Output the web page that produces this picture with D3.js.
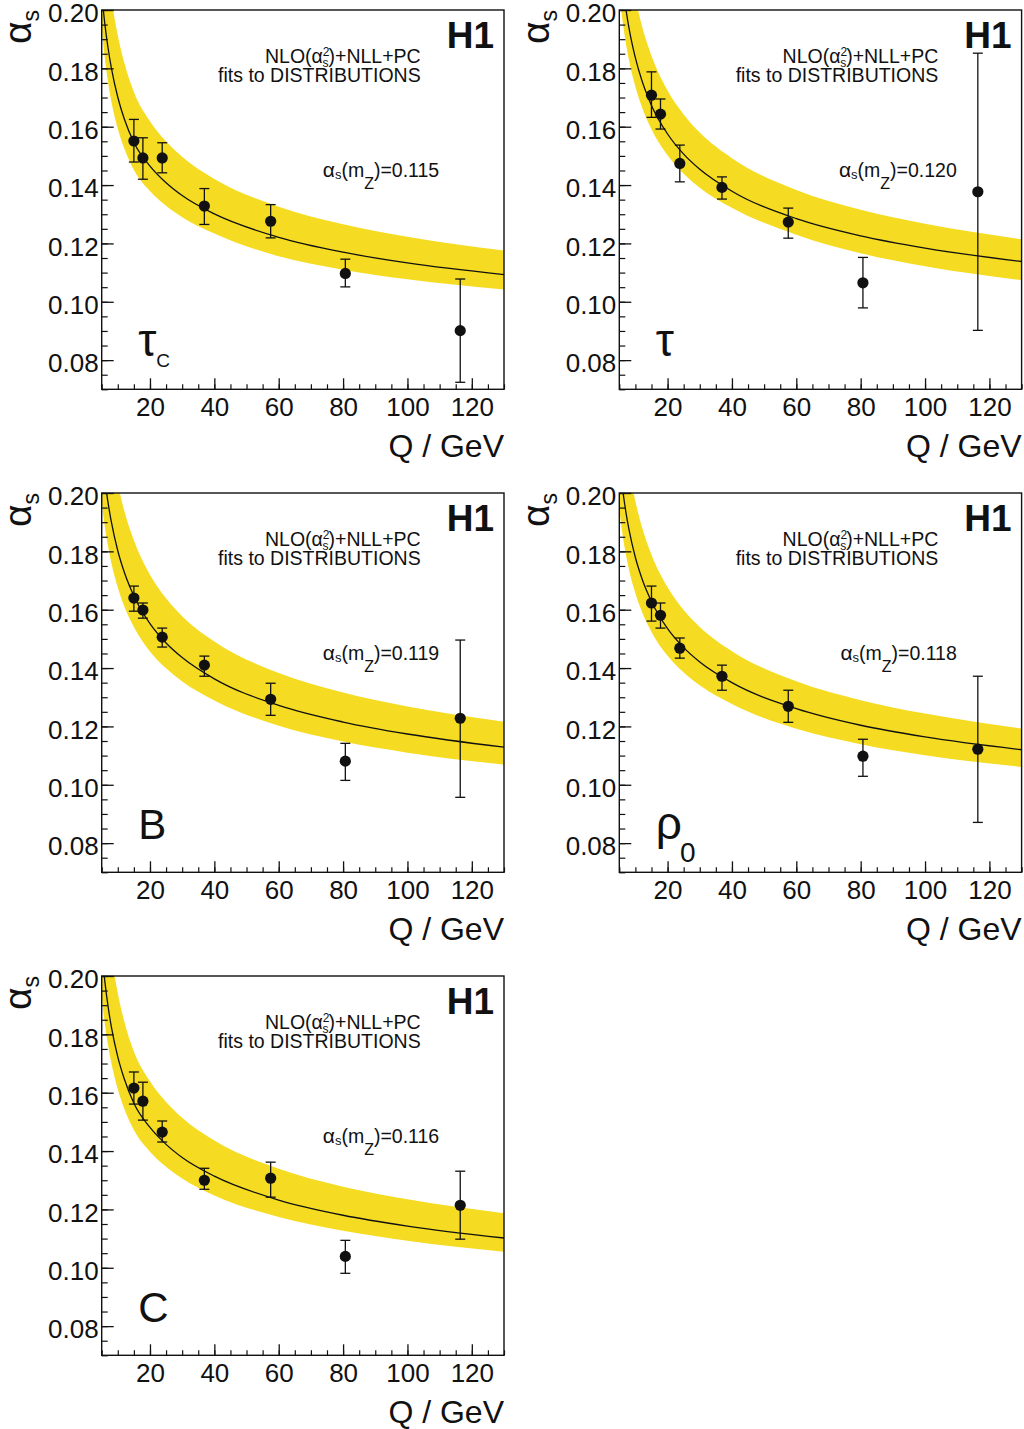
<!DOCTYPE html>
<html>
<head>
<meta charset="utf-8">
<script src="https://cdn.jsdelivr.net/npm/d3@7"></script>
<style>
  html, body { margin: 0; padding: 0; background: #fff; }
  svg { display: block; }
  text { font-family: "Liberation Sans", Arial, Helvetica, sans-serif; fill: #111; }
</style>
</head>
<body>
<svg id="chart" width="1024" height="1429"></svg>
<script>
// ---------------- data ----------------
const qPoints = [15.0, 17.8, 23.8, 36.9, 57.5, 80.7, 116.4];

const panelLabels = ["τ|C", "τ|", "B|", "ρ|0", "C|"];
const alphaMZLabels = ["0.115", "0.120", "0.119", "0.118", "0.116"];

const tauCValues = [0.1551, 0.1493, 0.1493, 0.1328, 0.1276, 0.1097, 0.0901];
const tauCHigh   = [0.1625, 0.1562, 0.1545, 0.1388, 0.1333, 0.1146, 0.1078];
const tauCLow    = [0.1479, 0.1420, 0.1442, 0.1265, 0.1219, 0.1051, 0.0724];

const tauValues = [0.1708, 0.1643, 0.1474, 0.1392, 0.1273, 0.1065, 0.1377];
const tauHigh   = [0.1788, 0.1695, 0.1537, 0.1428, 0.1321, 0.1152, 0.1852];
const tauLow    = [0.1632, 0.1592, 0.1411, 0.1352, 0.1218, 0.0979, 0.0902];

const bValues = [0.1640, 0.1599, 0.1506, 0.1410, 0.1293, 0.1081, 0.1228];
const bHigh   = [0.1681, 0.1623, 0.1537, 0.1441, 0.1348, 0.1142, 0.1496];
const bLow    = [0.1595, 0.1571, 0.1472, 0.1372, 0.1238, 0.1015, 0.0957];

const rhoValues = [0.1623, 0.1581, 0.1468, 0.1372, 0.1269, 0.1098, 0.1122];
const rhoHigh   = [0.1681, 0.1623, 0.1503, 0.1410, 0.1324, 0.1156, 0.1372];
const rhoLow    = [0.1561, 0.1537, 0.1434, 0.1324, 0.1214, 0.1029, 0.0871];

const cValues = [0.1616, 0.1571, 0.1465, 0.1300, 0.1307, 0.1039, 0.1214];
const cHigh   = [0.1671, 0.1636, 0.1503, 0.1341, 0.1362, 0.1094, 0.1331];
const cLow    = [0.1561, 0.1506, 0.1431, 0.1269, 0.1242, 0.0981, 0.1098];

// fitted running-coupling curves and yellow bands, sampled along Q
const qGrid = [5, 6, 7, 8, 10, 12, 15, 20, 25, 30, 40, 60, 80, 100, 130];

const tauCCurve  = [0.2057, 0.1950, 0.1868, 0.1802, 0.1701, 0.1627, 0.1546, 0.1465, 0.1408, 0.1364, 0.1301, 0.1221, 0.1170, 0.1133, 0.1093];
const tauCBandHi = [0.2375, 0.2233, 0.2126, 0.2041, 0.1913, 0.1820, 0.1719, 0.1619, 0.1550, 0.1497, 0.1421, 0.1326, 0.1266, 0.1223, 0.1176];
const tauCBandLo = [0.1938, 0.1832, 0.1750, 0.1686, 0.1593, 0.1526, 0.1452, 0.1380, 0.1329, 0.1290, 0.1234, 0.1156, 0.1110, 0.1077, 0.1042];

const tauCurve  = [0.2200, 0.2091, 0.2007, 0.1939, 0.1836, 0.1759, 0.1673, 0.1575, 0.1506, 0.1454, 0.1379, 0.1285, 0.1226, 0.1184, 0.1138];
const tauBandHi = [0.2503, 0.2363, 0.2256, 0.2171, 0.2042, 0.1947, 0.1843, 0.1724, 0.1642, 0.1580, 0.1492, 0.1383, 0.1315, 0.1267, 0.1214];
const tauBandLo = [0.2060, 0.1964, 0.1889, 0.1829, 0.1737, 0.1668, 0.1591, 0.1502, 0.1439, 0.1391, 0.1322, 0.1230, 0.1166, 0.1122, 0.1074];

const bCurve  = [0.2149, 0.2045, 0.1965, 0.1901, 0.1802, 0.1729, 0.1647, 0.1552, 0.1486, 0.1436, 0.1363, 0.1272, 0.1215, 0.1174, 0.1129];
const bBandHi = [0.2485, 0.2348, 0.2243, 0.2160, 0.2033, 0.1940, 0.1838, 0.1720, 0.1639, 0.1578, 0.1491, 0.1383, 0.1316, 0.1268, 0.1216];
const bBandLo = [0.1971, 0.1883, 0.1816, 0.1760, 0.1676, 0.1612, 0.1541, 0.1457, 0.1399, 0.1354, 0.1289, 0.1202, 0.1148, 0.1110, 0.1069];

const rhoCurve  = [0.2116, 0.2016, 0.1938, 0.1875, 0.1779, 0.1708, 0.1628, 0.1535, 0.1470, 0.1421, 0.1350, 0.1261, 0.1204, 0.1164, 0.1120];
const rhoBandHi = [0.2395, 0.2267, 0.2169, 0.2091, 0.1972, 0.1885, 0.1788, 0.1677, 0.1599, 0.1541, 0.1458, 0.1355, 0.1290, 0.1244, 0.1193];
const rhoBandLo = [0.1943, 0.1858, 0.1792, 0.1738, 0.1656, 0.1594, 0.1524, 0.1442, 0.1385, 0.1341, 0.1277, 0.1192, 0.1139, 0.1101, 0.1061];

const cCurve  = [0.2089, 0.1979, 0.1894, 0.1826, 0.1723, 0.1648, 0.1564, 0.1481, 0.1423, 0.1378, 0.1314, 0.1232, 0.1180, 0.1143, 0.1102];
const cBandHi = [0.2418, 0.2271, 0.2160, 0.2072, 0.1941, 0.1845, 0.1741, 0.1639, 0.1568, 0.1514, 0.1436, 0.1339, 0.1278, 0.1235, 0.1187];
const cBandLo = [0.1928, 0.1834, 0.1761, 0.1702, 0.1612, 0.1546, 0.1472, 0.1398, 0.1346, 0.1306, 0.1248, 0.1174, 0.1127, 0.1093, 0.1055];

const xTickLabels = [20, 40, 60, 80, 100, 120];
const yTickLabels = [0.08, 0.10, 0.12, 0.14, 0.16, 0.18, 0.20];

// ---------------- assemble panels ----------------
const panels = [
  { values: tauCValues, high: tauCHigh, low: tauCLow, curve: tauCCurve, bandHi: tauCBandHi, bandLo: tauCBandLo },
  { values: tauValues,  high: tauHigh,  low: tauLow,  curve: tauCurve,  bandHi: tauBandHi,  bandLo: tauBandLo },
  { values: bValues,    high: bHigh,    low: bLow,    curve: bCurve,    bandHi: bBandHi,    bandLo: bBandLo },
  { values: rhoValues,  high: rhoHigh,  low: rhoLow,  curve: rhoCurve,  bandHi: rhoBandHi,  bandLo: rhoBandLo },
  { values: cValues,    high: cHigh,    low: cLow,    curve: cCurve,    bandHi: cBandHi,    bandLo: cBandLo }
].map((p, i) => Object.assign(p, { label: panelLabels[i], amz: alphaMZLabels[i] }));

// ---------------- layout ----------------
const W = 402.3, H = 379.3;
const originX = [101.7, 619.3];
const originY = [10, 493, 976];

const x = d3.scaleLinear().domain([5, 130]).range([0, W]);
const y = d3.scaleLinear().domain([0.07, 0.20]).range([H, 0]);

const svg = d3.select("#chart");
const YELLOW = "#f5dc22";
const FONT = '"Liberation Sans", Arial, Helvetica, sans-serif';

panels.forEach((p, i) => {
  const col = i % 2, row = Math.floor(i / 2);
  const g = svg.append("g").attr("transform", `translate(${originX[col]},${originY[row]})`);

  const clipId = "clip" + i;
  g.append("clipPath").attr("id", clipId)
    .append("rect").attr("x", 0).attr("y", 0).attr("width", W).attr("height", H);

  const plot = g.append("g").attr("clip-path", `url(#${clipId})`);

  const bandData = qGrid.map((q, k) => ({ q, lo: p.bandLo[k], hi: p.bandHi[k], c: p.curve[k] }));

  const area = d3.area()
    .x(d => x(d.q)).y0(d => y(d.lo)).y1(d => y(d.hi))
    .curve(d3.curveMonotoneX);
  plot.append("path").datum(bandData).attr("d", area).attr("fill", YELLOW);

  const line = d3.line().x(d => x(d.q)).y(d => y(d.c)).curve(d3.curveMonotoneX);
  plot.append("path").datum(bandData).attr("d", line)
    .attr("fill", "none").attr("stroke", "#111").attr("stroke-width", 1.3);

  // frame
  g.append("rect").attr("x", 0).attr("y", 0).attr("width", W).attr("height", H)
    .attr("fill", "none").attr("stroke", "#111").attr("stroke-width", 1.4);

  // minor ticks
  const yMinor = d3.range(0.070, 0.2001, 0.005);
  const xMinor = d3.range(5, 130.01, 5);
  const yMinorAxis = d3.axisLeft(y).tickValues(yMinor).tickSize(-6).tickFormat("");
  const xMinorAxis = d3.axisBottom(x).tickValues(xMinor).tickSize(-5).tickFormat("");
  g.append("g").call(yMinorAxis).call(s => s.select(".domain").remove())
    .selectAll("line").attr("stroke", "#111").attr("stroke-width", 1.2);
  g.append("g").attr("transform", `translate(0,${H})`).call(xMinorAxis)
    .call(s => s.select(".domain").remove())
    .selectAll("line").attr("stroke", "#111").attr("stroke-width", 1.2);

  // major ticks + labels
  const yAxis = d3.axisLeft(y).tickValues(yTickLabels).tickSize(-12).tickPadding(3)
    .tickFormat(d3.format(".2f"));
  const ya = g.append("g").call(yAxis);
  ya.select(".domain").remove();
  ya.selectAll("line").attr("stroke", "#111").attr("stroke-width", 1.3);
  ya.selectAll("text").attr("font-size", 26).attr("dy", "0.45em")
    .style("font-family", FONT).attr("fill", "#111");

  const xAxis = d3.axisBottom(x).tickValues(xTickLabels).tickSize(-11).tickPadding(8);
  const xa = g.append("g").attr("transform", `translate(0,${H})`).call(xAxis);
  xa.select(".domain").remove();
  xa.selectAll("line").attr("stroke", "#111").attr("stroke-width", 1.3);
  xa.selectAll("text").attr("font-size", 26)
    .style("font-family", FONT).attr("fill", "#111");

  // axis titles
  g.append("text").attr("x", W).attr("y", H + 67.5).attr("text-anchor", "end")
    .attr("font-size", 32).text("Q / GeV");

  const yt = g.append("text")
    .attr("transform", `translate(-70.5,0) rotate(-90)`)
    .attr("text-anchor", "end");
  yt.append("tspan").attr("font-size", 39).text("α");
  yt.append("tspan").attr("font-size", 23).attr("dy", 8).text("s");

  // H1 logo
  g.append("text").attr("x", W - 10).attr("y", 38).attr("text-anchor", "end")
    .attr("font-size", 37).attr("font-weight", "bold").text("H1");

  // NLO text
  const t1 = g.append("text").attr("x", 319).attr("y", 53).attr("text-anchor", "end").attr("font-size", 19.5);
  t1.append("tspan").text("NLO(α");
  t1.append("tspan").attr("font-size", 12).attr("dy", -7).text("2");
  t1.append("tspan").attr("font-size", 12).attr("dx", -7).attr("dy", 11).text("s");
  t1.append("tspan").attr("font-size", 19.5).attr("dy", -4).text(")+NLL+PC");
  g.append("text").attr("x", 319).attr("y", 71.7).attr("text-anchor", "end").attr("font-size", 19.5)
    .text("fits to DISTRIBUTIONS");

  // alpha_s(mZ) text
  const t2 = g.append("text").attr("x", 337.5).attr("y", 166.7).attr("text-anchor", "end").attr("font-size", 19.5);
  t2.append("tspan").attr("font-size", 21).text("α");
  t2.append("tspan").attr("font-size", 13).attr("dy", 2).text("s");
  t2.append("tspan").attr("font-size", 19.5).attr("dy", -2).text("(m");
  t2.append("tspan").attr("font-size", 16).attr("dy", 12).text("Z");
  t2.append("tspan").attr("font-size", 19.5).attr("dy", -12).text(")=" + p.amz);

  // panel label
  const [mainLab, subLab] = p.label.split("|");
  const isLatin = mainLab === "B" || mainLab === "C";
  const lab = g.append("text").attr("x", 36.5).attr("y", 345.5).attr("font-size", isLatin ? 42 : 46);
  lab.append("tspan").text(mainLab);
  if (subLab === "C") lab.append("tspan").attr("font-size", 19).attr("dy", 11).text("C");
  if (subLab === "0") lab.append("tspan").attr("font-size", 28).attr("dx", -2).attr("dy", 23).text("0");

  // data points with error bars
  const pts = qPoints.map((q, k) => ({ q, v: p.values[k], hi: p.high[k], lo: p.low[k] }));
  const pg = g.append("g");
  pg.selectAll("line.err").data(pts).join("line").attr("class", "err")
    .attr("x1", d => x(d.q)).attr("x2", d => x(d.q))
    .attr("y1", d => y(d.hi)).attr("y2", d => y(d.lo))
    .attr("stroke", "#111").attr("stroke-width", 1.3);
  pg.selectAll("line.capHi").data(pts).join("line").attr("class", "capHi")
    .attr("x1", d => x(d.q) - 5).attr("x2", d => x(d.q) + 5)
    .attr("y1", d => y(d.hi)).attr("y2", d => y(d.hi))
    .attr("stroke", "#111").attr("stroke-width", 1.3);
  pg.selectAll("line.capLo").data(pts).join("line").attr("class", "capLo")
    .attr("x1", d => x(d.q) - 5).attr("x2", d => x(d.q) + 5)
    .attr("y1", d => y(d.lo)).attr("y2", d => y(d.lo))
    .attr("stroke", "#111").attr("stroke-width", 1.3);
  pg.selectAll("circle").data(pts).join("circle")
    .attr("cx", d => x(d.q)).attr("cy", d => y(d.v)).attr("r", 5.6).attr("fill", "#111");
});
</script>
</body>
</html>
